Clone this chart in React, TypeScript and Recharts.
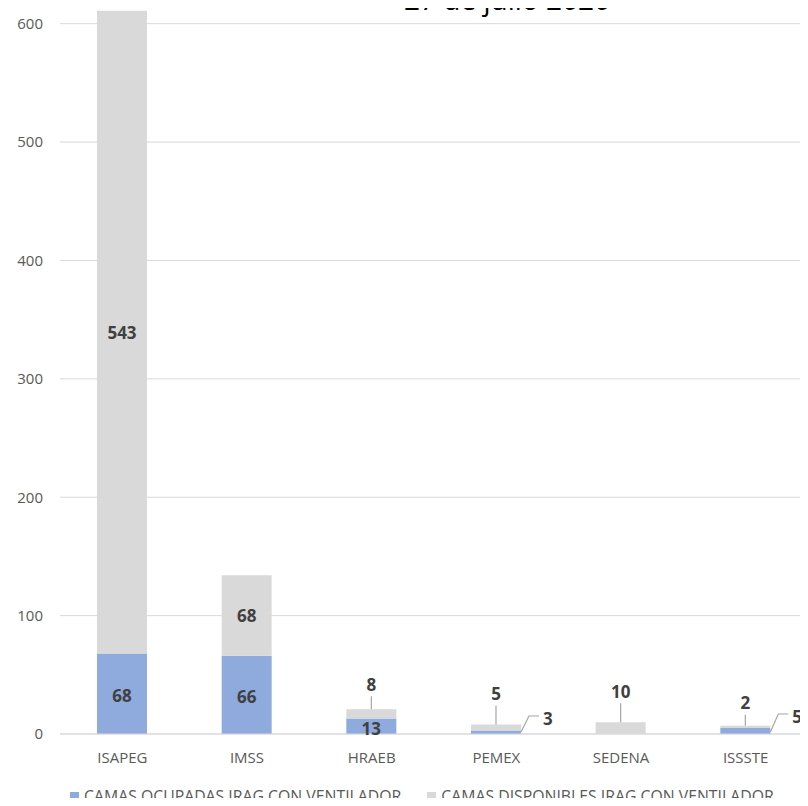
import { BarChart, Bar, XAxis, YAxis, CartesianGrid, Legend, LabelList } from 'recharts';

const categories = ['ISAPEG', 'IMSS', 'HRAEB', 'PEMEX', 'SEDENA', 'ISSSTE'];
const ocupadas = [68, 66, 13, 3, 0, 5];
const disponibles = [543, 68, 8, 5, 10, 2];
const yTicks = [0, 100, 200, 300, 400, 500, 600];

const data = categories.map((name, i) => ({
  name,
  ocupadas: ocupadas[i],
  disponibles: disponibles[i],
}));

const BLUE = '#8FAADC';
const GREY = '#D9D9D9';
const LABEL = '#404040';
const LEADER = '#A6A6A6';
const FONT = '"Open Sans", sans-serif';

// how high the side callouts for small blue segments climb
const SIDE_RISE: Record<string, number> = { PEMEX: 18, ISSSTE: 30 };
// gap between bar top and label above for small grey segments
const TOP_GAP: Record<string, number> = { HRAEB: 25, PEMEX: 31, SEDENA: 31, ISSSTE: 23 };

const labelStyle = { fontFamily: FONT, fontSize: 17, fontWeight: 700, fill: LABEL };

function OcupadasLabel(props: any) {
  const { x, y, width, height, value, index } = props;
  if (!value) return null;
  if (value >= 10) {
    return (
      <text x={x + width / 2} y={y + height / 2 + 2} textAnchor="middle" dominantBaseline="central" style={labelStyle}>
        {value}
      </text>
    );
  }
  const rise = SIDE_RISE[categories[index]] ?? 20;
  const bx = x + width;
  const by = y + height;
  return (
    <g>
      <polyline
        points={`${bx},${by - 2} ${bx + 8},${by - rise} ${bx + 18},${by - rise}`}
        fill="none"
        stroke={LEADER}
        strokeWidth={1.2}
      />
      <text x={bx + 22} y={by - rise + 2} dominantBaseline="central" style={labelStyle}>
        {value}
      </text>
    </g>
  );
}

function DisponiblesLabel(props: any) {
  const { x, y, width, height, value, index } = props;
  if (!value) return null;
  if (value >= 20) {
    return (
      <text x={x + width / 2} y={y + height / 2} textAnchor="middle" dominantBaseline="central" style={labelStyle}>
        {value}
      </text>
    );
  }
  const gap = TOP_GAP[categories[index]] ?? 27;
  const cx = x + width / 2;
  return (
    <g>
      <line x1={cx} y1={y - gap + 12} x2={cx} y2={y} stroke={LEADER} strokeWidth={1.2} />
      <text x={cx} y={y - gap} textAnchor="middle" dominantBaseline="central" style={labelStyle}>
        {value}
      </text>
    </g>
  );
}

function LegendContent() {
  const item = (color: string, text: string) => (
    <div style={{ display: 'flex', alignItems: 'center', marginRight: 26 }}>
      <div style={{ width: 9, height: 9, background: color, marginRight: 5 }} />
      <span>{text}</span>
    </div>
  );
  return (
    <div
      style={{
        display: 'flex',
        justifyContent: 'flex-start',
        paddingLeft: 70,
        paddingTop: 13,
        height: 19,
        lineHeight: '19px',
        fontFamily: FONT,
        fontSize: 15.8,
        color: '#595959',
        whiteSpace: 'nowrap',
      }}
    >
      {item(BLUE, 'CAMAS OCUPADAS IRAG CON VENTILADOR')}
      {item(GREY, 'CAMAS DISPONIBLES IRAG CON VENTILADOR')}
    </div>
  );
}

export default function App() {
  return (
    <div style={{ position: 'relative', margin: -8, width: 808, height: 806, overflow: 'hidden', background: '#fff' }}>
      <div
        style={{
          position: 'absolute',
          top: -16,
          left: 0,
          width: 1014,
          textAlign: 'center',
          fontFamily: FONT,
          fontSize: 28,
          lineHeight: '30px',
          color: '#000',
        }}
      >
        27 de julio 2020
      </div>
      <BarChart width={808} height={806} data={data} margin={{ top: 0, right: 0, bottom: 0, left: 0 }} barSize={50}>
        <CartesianGrid vertical={false} stroke="#D9D9D9" />
        <XAxis
          dataKey="name"
          axisLine={{ stroke: '#D9D9D9' }}
          tickLine={false}
          tickMargin={12}
          height={40}
          tick={{ fontFamily: FONT, fontSize: 15, fill: '#595959' }}
        />
        <YAxis
          width={60}
          domain={[0, 620]}
          ticks={yTicks}
          axisLine={false}
          tickLine={false}
          tickSize={0}
          tickMargin={17}
          tick={{ fontFamily: FONT, fontSize: 15, fill: '#595959' }}
        />
        <Legend verticalAlign="bottom" content={<LegendContent />} />
        <Bar dataKey="ocupadas" stackId="a" fill={BLUE} isAnimationActive={false}>
          <LabelList dataKey="ocupadas" content={OcupadasLabel} />
        </Bar>
        <Bar dataKey="disponibles" stackId="a" fill={GREY} isAnimationActive={false}>
          <LabelList dataKey="disponibles" content={DisponiblesLabel} />
        </Bar>
      </BarChart>
    </div>
  );
}
